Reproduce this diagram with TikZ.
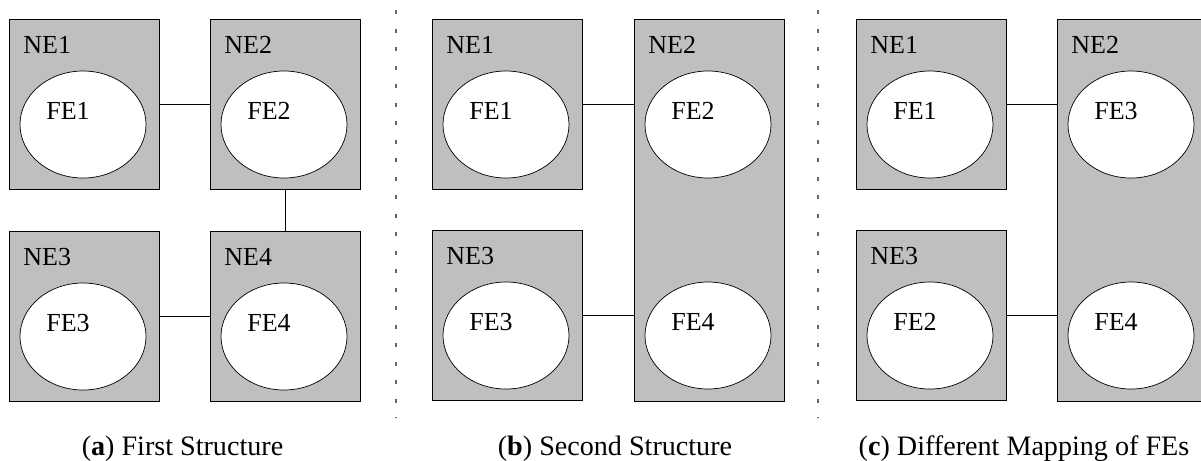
\documentclass[tikz,border=0pt]{standalone}
\usepackage{fontspec}
\setmainfont{Liberation Serif}
\usetikzlibrary{shapes,positioning,calc}
\tikzset{
    ne/.style={
        rectangle,
        draw=black,
        fill=black!25,
        anchor=north west,
        minimum width=3cm,
        minimum height=3.4cm,
        line width=0.6pt,
    },
    netall/.style={
        ne,
        minimum height=7.64cm,
    },
    fe/.style={
        ellipse,
        draw=black,
        fill=white,
        minimum width=2.52cm,
        minimum height=2.14cm,
    },
    name-text/.style={
        anchor=base west,
        inner sep=0pt,
        font=\fontsize{14.8}{17}\selectfont,
    },
    sub-caption/.style={
        anchor=base,
        inner sep=0pt,
        font=\fontsize{16}{19}\selectfont,
    },
    link/.style={
        draw,
        -,
        line width=0.5pt,
    },
    sep/.style={
        draw,
        line width=0.9pt,
        dash pattern=on 0.08cm off 0.29cm,
        black!60,
    },
}
\begin{document}
\begin{tikzpicture}
    \useasboundingbox (0,0) rectangle (24.02,-9.2);

    % (a) first structure
    \node[ne] (a-N1) at (0.18,-0.38) {};
    \node[ne] (a-N2) at (4.2,-0.38) {};
    \node[ne] (a-N3) at (0.18,-4.62) {};
    \node[ne] (a-N4) at (4.2,-4.62) {};
    \node[name-text] (a-n1) at ($(a-N1.north west)+(0.28,-0.68)$) {NE1};
    \node[name-text] (a-n2) at ($(a-N2.north west)+(0.28,-0.68)$) {NE2};
    \node[name-text] (a-n3) at ($(a-N3.north west)+(0.28,-0.68)$) {NE3};
    \node[name-text] (a-n4) at ($(a-N4.north west)+(0.28,-0.68)$) {NE4};
    \node[fe] (a-F1) at ($(a-N1.north west)+(1.48,-2.11)$) {};
    \node[fe] (a-F2) at ($(a-N2.north west)+(1.48,-2.11)$) {};
    \node[fe] (a-F3) at ($(a-N3.north west)+(1.48,-2.11)$) {};
    \node[fe] (a-F4) at ($(a-N4.north west)+(1.48,-2.11)$) {};
    \node[name-text] (a-f1) at ($(a-F1.center)+(-0.74,0.11)$) {FE1};
    \node[name-text] (a-f2) at ($(a-F2.center)+(-0.74,0.11)$) {FE2};
    \node[name-text] (a-f3) at ($(a-F3.center)+(-0.74,0.11)$) {FE3};
    \node[name-text] (a-f4) at ($(a-F4.center)+(-0.74,0.11)$) {FE4};
    \draw[link] (a-N1.east) -- (a-N2.west);
    \draw[link] (a-N3.east) -- (a-N4.west);
    \draw[link] (a-N2.south) -- (a-N4.north);
    \node[sub-caption] (a-cap) at (3.65,-9.1) {(\textbf{a}) First Structure};

    % separator
    \coordinate (s1-top) at (7.92,-0.2);
    \coordinate (s1-bot) at (7.92,-8.36);
    \draw[sep] (s1-top) -- (s1-bot);

    % (b) second structure
    \node[ne] (b-N1) at (8.64,-0.38) {};
    \node[netall] (b-N2) at (12.68,-0.38) {};
    \node[ne] (b-N3) at (8.64,-4.6) {};
    \node[name-text] (b-n1) at ($(b-N1.north west)+(0.28,-0.68)$) {NE1};
    \node[name-text] (b-n2) at ($(b-N2.north west)+(0.28,-0.68)$) {NE2};
    \node[name-text] (b-n3) at ($(b-N3.north west)+(0.28,-0.68)$) {NE3};
    \node[fe] (b-F1) at ($(b-N1.north west)+(1.48,-2.11)$) {};
    \node[fe] (b-F2) at ($(b-N2.north west)+(1.48,-2.11)$) {};
    \node[fe] (b-F3) at ($(b-N3.north west)+(1.48,-2.11)$) {};
    \node[fe] (b-F4) at ($(b-N2.north west)+(1.48,-6.33)$) {};
    \node[name-text] (b-f1) at ($(b-F1.center)+(-0.74,0.11)$) {FE1};
    \node[name-text] (b-f2) at ($(b-F2.center)+(-0.74,0.11)$) {FE2};
    \node[name-text] (b-f3) at ($(b-F3.center)+(-0.74,0.11)$) {FE3};
    \node[name-text] (b-f4) at ($(b-F4.center)+(-0.74,0.11)$) {FE4};
    \draw[link] (b-N1.east) -- (b-N1.east -| b-N2.west);
    \draw[link] (b-N3.east) -- (b-N3.east -| b-N2.west);
    \node[sub-caption] (b-cap) at (12.3,-9.1) {(\textbf{b}) Second Structure};

    % separator
    \coordinate (s2-top) at (16.36,-0.2);
    \coordinate (s2-bot) at (16.36,-8.36);
    \draw[sep] (s2-top) -- (s2-bot);

    % (c) different mapping
    \node[ne] (c-N1) at (17.12,-0.38) {};
    \node[netall] (c-N2) at (21.14,-0.38) {};
    \node[ne] (c-N3) at (17.12,-4.6) {};
    \node[name-text] (c-n1) at ($(c-N1.north west)+(0.28,-0.68)$) {NE1};
    \node[name-text] (c-n2) at ($(c-N2.north west)+(0.28,-0.68)$) {NE2};
    \node[name-text] (c-n3) at ($(c-N3.north west)+(0.28,-0.68)$) {NE3};
    \node[fe] (c-F1) at ($(c-N1.north west)+(1.48,-2.11)$) {};
    \node[fe] (c-F3) at ($(c-N2.north west)+(1.48,-2.11)$) {};
    \node[fe] (c-F2) at ($(c-N3.north west)+(1.48,-2.11)$) {};
    \node[fe] (c-F4) at ($(c-N2.north west)+(1.48,-6.33)$) {};
    \node[name-text] (c-f1) at ($(c-F1.center)+(-0.74,0.11)$) {FE1};
    \node[name-text] (c-f3) at ($(c-F3.center)+(-0.74,0.11)$) {FE3};
    \node[name-text] (c-f2) at ($(c-F2.center)+(-0.74,0.11)$) {FE2};
    \node[name-text] (c-f4) at ($(c-F4.center)+(-0.74,0.11)$) {FE4};
    \draw[link] (c-N1.east) -- (c-N1.east -| c-N2.west);
    \draw[link] (c-N3.east) -- (c-N3.east -| c-N2.west);
    \node[sub-caption] (c-cap) at (20.48,-9.1) {(\textbf{c}) Different Mapping of FEs};
\end{tikzpicture}
\end{document}
